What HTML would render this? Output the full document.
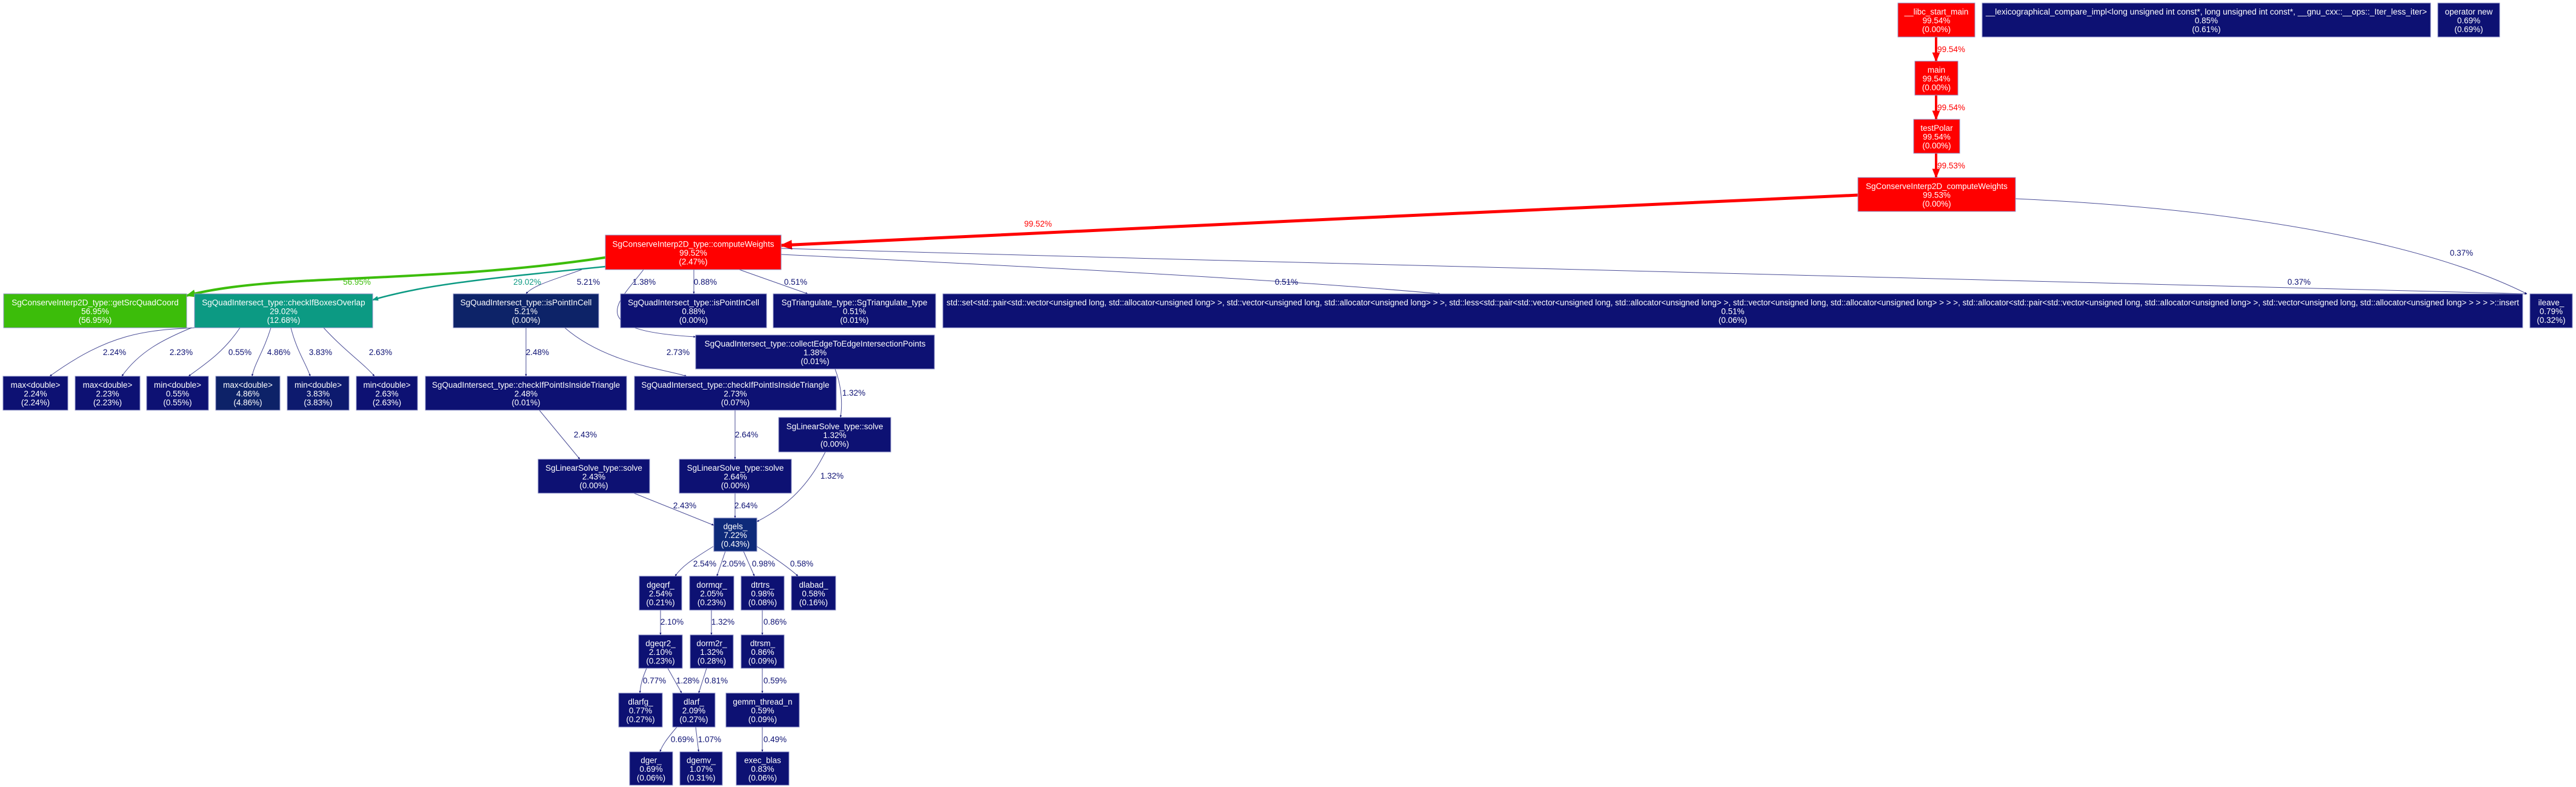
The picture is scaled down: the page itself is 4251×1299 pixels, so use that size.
<!DOCTYPE html>
<html><head><meta charset="utf-8"><title>Call graph</title>
<style>
html,body{margin:0;padding:0;background:#fff;}
svg{display:block;}
text{font-family:"Liberation Sans",Arial,sans-serif;font-size:13.5px;}
</style></head>
<body>
<svg id="g" width="4251" height="1299" viewBox="0 0 4251 1299" xmlns="http://www.w3.org/2000/svg">
<defs>
<marker id="arr" viewBox="0 0 10 10" refX="9" refY="5" markerWidth="4" markerHeight="4" orient="auto" markerUnits="strokeWidth"><path d="M0,1 L10,5 L0,9 z" fill="context-stroke"/></marker>
</defs>
<g id="edges"></g>
<g id="nodes"></g>
</svg>
<script>
var NAVY="#0d1173", RED="#ff0000", GREEN="#3cbd0a", TEAL="#0c9a83";
var LONGSET="std::set<std::pair<std::vector<unsigned long, std::allocator<unsigned long> >, std::vector<unsigned long, std::allocator<unsigned long> > >, std::less<std::pair<std::vector<unsigned long, std::allocator<unsigned long> >, std::vector<unsigned long, std::allocator<unsigned long> > > >, std::allocator<std::pair<std::vector<unsigned long, std::allocator<unsigned long> >, std::vector<unsigned long, std::allocator<unsigned long> > > > >::insert";
// [name, total, self, x1, y1, x2, y2, color, key]
var nodes=[
["__libc_start_main","99.54%","(0.00%)",3132,5,3259,61,RED,"libc-start-main"],
["__lexicographical_compare_impl<long unsigned int const*, long unsigned int const*, __gnu_cxx::__ops::_Iter_less_iter>","0.85%","(0.61%)",3271,5,4011,61,NAVY,"lexicographical-compare"],
["operator new","0.69%","(0.69%)",4023,5,4125,61,NAVY,"operator-new"],
["main","99.54%","(0.00%)",3160,101,3231,157,RED,"main"],
["testPolar","99.54%","(0.00%)",3158,197,3234,253,RED,"test-polar"],
["SgConserveInterp2D_computeWeights","99.53%","(0.00%)",3066,293,3326,349,RED,"compute-weights-c"],
["SgConserveInterp2D_type::computeWeights","99.52%","(2.47%)",999,388,1289,445,RED,"compute-weights"],
["SgConserveInterp2D_type::getSrcQuadCoord","56.95%","(56.95%)",6,485,308,541,GREEN,"get-src-quad-coord"],
["SgQuadIntersect_type::checkIfBoxesOverlap","29.02%","(12.68%)",321,485,615,541,TEAL,"check-if-boxes-overlap"],
["SgQuadIntersect_type::isPointInCell","5.21%","(0.00%)",748,485,988,541,"#0d2368","is-point-in-cell-a"],
["SgQuadIntersect_type::isPointInCell","0.88%","(0.00%)",1024,485,1265,541,NAVY,"is-point-in-cell-b"],
["SgTriangulate_type::SgTriangulate_type","0.51%","(0.01%)",1276,485,1544,541,NAVY,"sg-triangulate"],
[LONGSET,"0.51%","(0.06%)",1556,485,4163,541,NAVY,"std-set-insert"],
["ileave_","0.79%","(0.32%)",4175,485,4245,541,NAVY,"ileave"],
["SgQuadIntersect_type::collectEdgeToEdgeIntersectionPoints","1.38%","(0.01%)",1148,553,1542,609,NAVY,"collect-edge-points"],
["max<double>","2.24%","(2.24%)",5,621,112,677,NAVY,"max-double-a"],
["max<double>","2.23%","(2.23%)",124,621,231,677,NAVY,"max-double-b"],
["min<double>","0.55%","(0.55%)",242,621,344,677,NAVY,"min-double-a"],
["max<double>","4.86%","(4.86%)",356,621,462,677,"#0d2268","max-double-c"],
["min<double>","3.83%","(3.83%)",474,621,576,677,"#0d1a6e","min-double-b"],
["min<double>","2.63%","(2.63%)",588,621,689,677,NAVY,"min-double-c"],
["SgQuadIntersect_type::checkIfPointIsInsideTriangle","2.48%","(0.01%)",702,621,1034,677,NAVY,"check-point-triangle-a"],
["SgQuadIntersect_type::checkIfPointIsInsideTriangle","2.73%","(0.07%)",1047,621,1380,677,NAVY,"check-point-triangle-b"],
["SgLinearSolve_type::solve","1.32%","(0.00%)",1285,689,1470,746,NAVY,"linear-solve-c"],
["SgLinearSolve_type::solve","2.43%","(0.00%)",888,758,1072,814,NAVY,"linear-solve-a"],
["SgLinearSolve_type::solve","2.64%","(0.00%)",1121,758,1306,814,NAVY,"linear-solve-b"],
["dgels_","7.22%","(0.43%)",1178,855,1249,910,"#0e2a7a","dgels"],
["dgeqrf_","2.54%","(0.21%)",1055,951,1125,1007,NAVY,"dgeqrf"],
["dormqr_","2.05%","(0.23%)",1138,951,1211,1007,NAVY,"dormqr"],
["dtrtrs_","0.98%","(0.08%)",1223,951,1294,1007,NAVY,"dtrtrs"],
["dlabad_","0.58%","(0.16%)",1306,951,1379,1007,NAVY,"dlabad"],
["dgeqr2_","2.10%","(0.23%)",1054,1048,1126,1103,NAVY,"dgeqr2"],
["dorm2r_","1.32%","(0.28%)",1139,1048,1210,1103,NAVY,"dorm2r"],
["dtrsm_","0.86%","(0.09%)",1223,1048,1294,1103,NAVY,"dtrsm"],
["dlarfg_","0.77%","(0.27%)",1021,1144,1093,1200,NAVY,"dlarfg"],
["dlarf_","2.09%","(0.27%)",1110,1144,1180,1200,NAVY,"dlarf"],
["gemm_thread_n","0.59%","(0.09%)",1198,1144,1319,1200,NAVY,"gemm-thread-n"],
["dger_","0.69%","(0.06%)",1039,1241,1110,1296,NAVY,"dger"],
["dgemv_","1.07%","(0.31%)",1122,1241,1192,1296,NAVY,"dgemv"],
["exec_blas","0.83%","(0.06%)",1215,1241,1302,1296,NAVY,"exec-blas"]
];
// [path, width, color, label, lx, ly, key]
var edges=[
["M3195,61 L3195,101",4,RED,"99.54%",3220,81,"libc-main"],
["M3195,157 L3195,197",4,RED,"99.54%",3220,177,"main-testpolar"],
["M3195,253 L3195,293",4,RED,"99.53%",3220,273,"testpolar-cw"],
["M3066,322 C2600,345 1700,382 1289,405",5,RED,"99.52%",1713,369,"cw-cw"],
["M3326,328 C3700,345 4000,400 4170,485",1,NAVY,"0.37%",4062,417,"cwc-ileave"],
["M999,425 C700,470 450,450 308,488",4,GREEN,"56.95%",589,465,"cw-srcquad"],
["M999,440 C800,460 700,470 615,495",2.5,TEAL,"29.02%",870,465,"cw-boxes"],
["M960,445 C920,460 880,470 868,485",1,NAVY,"5.21%",971,465,"cw-pic-a"],
["M1062,445 C1020,500 960,545 1148,556",1,NAVY,"1.38%",1063,465,"cw-collect"],
["M1145,445 L1145,485",1,NAVY,"0.88%",1164,465,"cw-pic-b"],
["M1220,445 L1333,485",1,NAVY,"0.51%",1313,465,"cw-triang"],
["M1289,420 C1700,440 2100,460 2377,485",1,NAVY,"0.51%",2123,465,"cw-set"],
["M1289,410 C2300,440 3400,460 4170,485",1,NAVY,"0.37%",3794,465,"cw-ileave"],
["M321,541 C240,545 180,550 82,621",1,NAVY,"2.24%",189,581,"boxes-max-a"],
["M316,541 C270,560 230,580 201,621",1,NAVY,"2.23%",299,581,"boxes-max-b"],
["M396,541 C370,580 340,600 311,621",1,NAVY,"0.55%",396,581,"boxes-min-a"],
["M447,541 C435,580 420,600 416,621",1,NAVY,"4.86%",460,581,"boxes-max-c"],
["M480,541 C490,580 505,600 512,621",1,NAVY,"3.83%",529,581,"boxes-min-b"],
["M534,541 C570,580 600,600 618,621",1,NAVY,"2.63%",628,581,"boxes-min-c"],
["M868,541 L868,621",1,NAVY,"2.48%",887,581,"pic-tri-a"],
["M932,541 C1000,600 1100,610 1133,621",1,NAVY,"2.73%",1119,581,"pic-tri-b"],
["M1378,609 C1390,640 1390,670 1387,689",1,NAVY,"1.32%",1409,648,"collect-ls-c"],
["M890,677 L957,758",1,NAVY,"2.43%",966,717,"tri-ls-a"],
["M1213,677 L1213,758",1,NAVY,"2.64%",1232,717,"tri-ls-b"],
["M1046,814 L1178,867",1,NAVY,"2.43%",1130,834,"ls-a-dgels"],
["M1213,814 L1213,855",1,NAVY,"2.64%",1231,834,"ls-b-dgels"],
["M1362,746 C1330,810 1290,840 1249,861",1,NAVY,"1.32%",1373,785,"ls-c-dgels"],
["M1177,902 C1140,925 1125,935 1114,951",1,NAVY,"2.54%",1163,930,"dgels-dgeqrf"],
["M1197,910 L1183,951",1,NAVY,"2.05%",1211,930,"dgels-dormqr"],
["M1227,910 L1245,951",1,NAVY,"0.98%",1260,930,"dgels-dtrtrs"],
["M1249,902 C1285,925 1305,940 1317,951",1,NAVY,"0.58%",1323,930,"dgels-dlabad"],
["M1090,1007 L1090,1048",1,NAVY,"2.10%",1109,1026,"dgeqrf-dgeqr2"],
["M1174,1007 L1174,1048",1,NAVY,"1.32%",1193,1026,"dormqr-dorm2r"],
["M1258,1007 L1258,1048",1,NAVY,"0.86%",1279,1026,"dtrtrs-dtrsm"],
["M1067,1103 C1060,1120 1057,1130 1056,1144",1,NAVY,"0.77%",1080,1123,"dgeqr2-dlarfg"],
["M1102,1103 L1125,1144",1,NAVY,"1.28%",1135,1123,"dgeqr2-dlarf"],
["M1166,1103 L1153,1144",1,NAVY,"0.81%",1182,1123,"dorm2r-dlarf"],
["M1258,1103 L1258,1144",1,NAVY,"0.59%",1279,1123,"dtrsm-gemm"],
["M1117,1200 C1100,1220 1093,1230 1089,1241",1,NAVY,"0.69%",1126,1220,"dlarf-dger"],
["M1148,1200 L1153,1241",1,NAVY,"1.07%",1171,1220,"dlarf-dgemv"],
["M1258,1200 L1258,1241",1,NAVY,"0.49%",1279,1220,"gemm-exec"]
];
var NS="http://www.w3.org/2000/svg";
var eg=document.getElementById("edges"), ng=document.getElementById("nodes");
edges.forEach(function(e){
  var g=document.createElementNS(NS,"g");
  
  
  var p=document.createElementNS(NS,"path");
  p.setAttribute("d",e[0]);p.setAttribute("fill","none");
  p.setAttribute("stroke",e[2]);p.setAttribute("stroke-width",e[1]);
  p.setAttribute("stroke-opacity",e[2]===NAVY?"0.75":"1");
  p.setAttribute("marker-end","url(#arr)");
  
  
  g.appendChild(p);
  var t=document.createElementNS(NS,"text");
  t.setAttribute("x",e[4]);t.setAttribute("y",e[5]+5);
  t.setAttribute("text-anchor","middle");t.setAttribute("fill",e[2]);
  
  
  t.textContent=e[3];g.appendChild(t);
  eg.appendChild(g);
});
nodes.forEach(function(n){
  var g=document.createElementNS(NS,"g");
  
  
  var r=document.createElementNS(NS,"rect");
  r.setAttribute("x",n[3]);r.setAttribute("y",n[4]);
  r.setAttribute("width",n[5]-n[3]);r.setAttribute("height",n[6]-n[4]);
  r.setAttribute("fill",n[7]);r.setAttribute("stroke","#8f93c8");r.setAttribute("stroke-width","1");
  
  
  g.appendChild(r);
  var cx=(n[3]+n[5])/2, cy=(n[4]+n[6])/2;
  [n[0],n[1],n[2]].forEach(function(s,i){
    var t=document.createElementNS(NS,"text");
    t.setAttribute("x",cx);t.setAttribute("y",cy-14+i*14.5+5);
    t.setAttribute("text-anchor","middle");t.setAttribute("fill","#fff");
    if(i===0 && s.length>60){t.setAttribute("textLength",(n[5]-n[3])-12);t.setAttribute("lengthAdjust","spacingAndGlyphs");}
    
    
    t.textContent=s;g.appendChild(t);
  });
  ng.appendChild(g);
});
</script>
</body></html>
